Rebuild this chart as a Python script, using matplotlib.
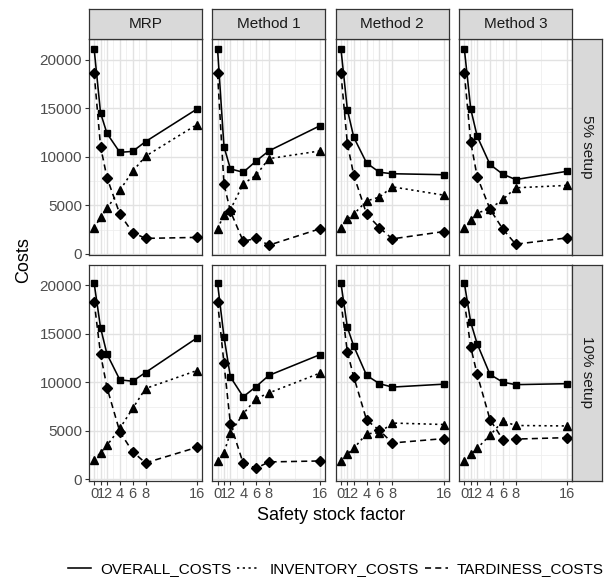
import numpy as np
import matplotlib
matplotlib.use("Agg")
import matplotlib.pyplot as plt
from matplotlib.lines import Line2D

plt.rcParams['font.family'] = ['Liberation Sans', 'DejaVu Sans']

safety_factor = [0, 1, 2, 4, 6, 8, 16]
methods = ["MRP", "Method 1", "Method 2", "Method 3"]
setups = ["5% setup", "10% setup"]
x_ticks = [0, 1, 2, 4, 6, 8, 16]
y_ticks = [0, 5000, 10000, 15000, 20000]

# rows follow the order of methods
overall_5 = [[21100, 14500, 12400, 10450, 10550, 11550, 14900],
             [21100, 11050, 8750, 8400, 9550, 10600, 13200],
             [21100, 14850, 12000, 9350, 8400, 8250, 8150],
             [21100, 14900, 12100, 9200, 8200, 7650, 8500]]
inventory_5 = [[2700, 3750, 4700, 6550, 8500, 10050, 13300],
               [2600, 4000, 4550, 7200, 8100, 9800, 10600],
               [2700, 3600, 4100, 5450, 5850, 6900, 6050],
               [2650, 3500, 4200, 4650, 5600, 6800, 7050]]
tardiness_5 = [[18600, 11050, 7850, 4100, 2200, 1600, 1700],
               [18600, 7200, 4400, 1300, 1600, 900, 2600],
               [18600, 11350, 8100, 4100, 2700, 1550, 2300],
               [18600, 11500, 7950, 4600, 2550, 1000, 1650]]

overall_10 = [[20200, 15600, 12900, 10250, 10100, 11000, 14550],
              [20200, 14700, 10550, 8500, 9550, 10700, 12850],
              [20200, 15650, 13700, 10700, 9850, 9500, 9800],
              [20200, 16150, 13950, 10800, 10000, 9750, 9850]]
inventory_10 = [[2000, 2750, 3500, 5250, 7300, 9350, 11200],
                [1900, 2750, 4800, 6750, 8300, 8900, 10950],
                [1900, 2600, 3200, 4700, 4800, 5800, 5650],
                [1900, 2600, 3200, 4550, 6000, 5550, 5500]]
tardiness_10 = [[18300, 12900, 9450, 4900, 2850, 1700, 3300],
                [18300, 11950, 5750, 1650, 1150, 1800, 1900],
                [18300, 13100, 10550, 6100, 5050, 3750, 4200],
                [18300, 13600, 10800, 6150, 4100, 4150, 4300]]

series_names = ["OVERALL_COSTS", "INVENTORY_COSTS", "TARDINESS_COSTS"]
data = [[overall_5, inventory_5, tardiness_5],
        [overall_10, inventory_10, tardiness_10]]

styles = [dict(linestyle='-', marker='s', markersize=5.0),
          dict(linestyle=(0, (1.4, 2.2)), marker='^', markersize=6.4),
          dict(linestyle=(0, (3.8, 2.6)), marker='D', markersize=5.0)]

W, H = 605, 580
fig = plt.figure(figsize=(W / 100, H / 100), dpi=100)


def px_axes(l, t, w, h):
    return fig.add_axes([l / W, 1 - (t + h) / H, w / W, h / H])


border = '#333333'
lefts = [89 + i * 123.4 for i in range(4)]
tops = [39, 264.5]
pw, ph = 113, 216

allvals = np.concatenate([np.ravel(s) for row in data for s in row])
lo, hi = allvals.min(), allvals.max()
pad = 0.05 * (hi - lo)
ylim = (lo - pad, hi + pad)
xlim = (-0.8, 16.8)

for r in range(2):
    for c in range(4):
        ax = px_axes(lefts[c], tops[r], pw, ph)
        ax.set_xlim(*xlim)
        ax.set_ylim(*ylim)
        for v in [0.5, 1.5, 3, 5, 7, 12]:
            ax.axvline(v, color='#EFEFEF', lw=0.6, zorder=0)
        for v in [2500, 7500, 12500, 17500]:
            ax.axhline(v, color='#EFEFEF', lw=0.6, zorder=0)
        for v in x_ticks:
            ax.axvline(v, color='#E2E2E2', lw=1.0, zorder=0)
        for v in y_ticks:
            ax.axhline(v, color='#E2E2E2', lw=1.0, zorder=0)
        for s in range(3):
            ax.plot(safety_factor, data[r][s][c], color='black', lw=1.15,
                    markerfacecolor='black', markeredgecolor='black',
                    zorder=3, **styles[s])
        for sp in ax.spines.values():
            sp.set_color(border)
            sp.set_linewidth(0.9)
        ax.set_xticks(x_ticks)
        ax.set_yticks(y_ticks)
        ax.tick_params(length=3, width=0.8, color=border, labelsize=11,
                       labelcolor='#4D4D4D', pad=2)
        if c == 0:
            ax.set_yticklabels([str(v) for v in y_ticks])
        else:
            ax.tick_params(axis='y', left=False, labelleft=False)
        if r == 1:
            ax.set_xticklabels([str(v) for v in x_ticks])
            ax.tick_params(axis='x', labelsize=10.5)
        else:
            ax.tick_params(axis='x', bottom=False, labelbottom=False)

# strips
for c in range(4):
    sa = px_axes(lefts[c], 9, pw, 30)
    sa.set_facecolor('#D9D9D9')
    sa.set_xticks([])
    sa.set_yticks([])
    for sp in sa.spines.values():
        sp.set_color(border)
        sp.set_linewidth(0.9)
    sa.text(0.5, 0.5, methods[c], ha='center', va='center', fontsize=11,
            color='#1A1A1A', transform=sa.transAxes)

for r in range(2):
    sa = px_axes(lefts[3] + pw, tops[r], 30, ph)
    sa.set_facecolor('#D9D9D9')
    sa.set_xticks([])
    sa.set_yticks([])
    for sp in sa.spines.values():
        sp.set_color(border)
        sp.set_linewidth(0.9)
    sa.text(0.5, 0.5, setups[r], ha='center', va='center', fontsize=11,
            color='#1A1A1A', rotation=-90, transform=sa.transAxes)

mid_x = (lefts[0] + lefts[3] + pw) / 2
fig.text(mid_x / W, 1 - 516 / H, "Safety stock factor", ha='center',
         va='center', fontsize=13)
fig.text(24 / W, 1 - 260 / H, "Costs", ha='center', va='center',
         fontsize=13, rotation=90)

handles = [Line2D([], [], color='black', lw=1.15, linestyle=st['linestyle'])
           for st in styles]
fig.legend(handles, series_names, loc='center', ncol=3, frameon=False,
           bbox_to_anchor=(336 / W, 1 - 569 / H), fontsize=11,
           handlelength=1.5, handletextpad=0.6, columnspacing=0.4)

fig.savefig("out.png", dpi=100)
